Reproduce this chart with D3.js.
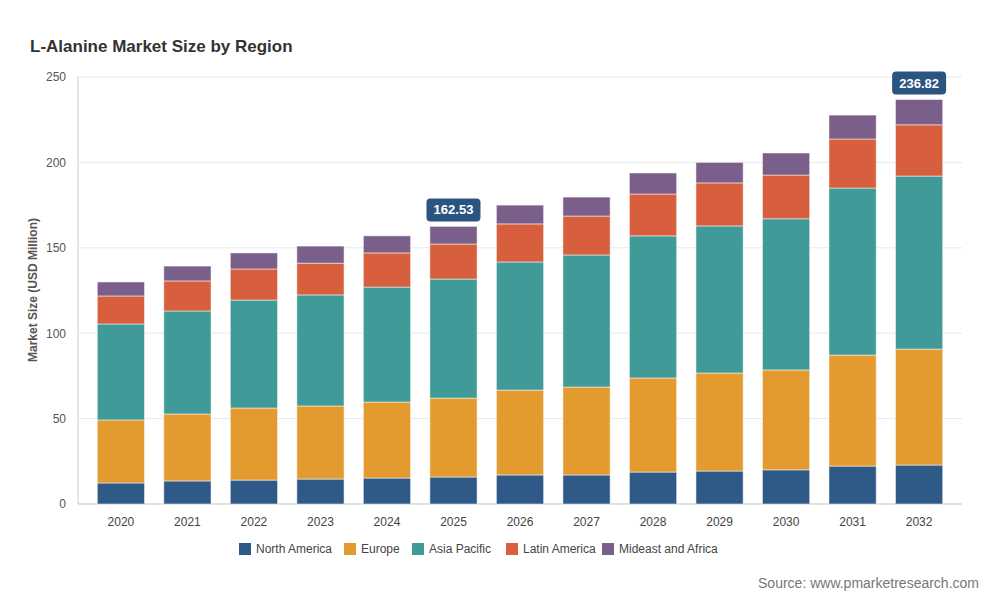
<!DOCTYPE html>
<html><head><meta charset="utf-8">
<script src="https://cdn.jsdelivr.net/npm/d3@7"></script>
<style>body{margin:0;background:#fff;font-family:"Liberation Sans",Arial,sans-serif}</style>
</head><body><svg id="c" width="1000" height="600"></svg>
<script>
var years = ["2020","2021","2022","2023","2024","2025","2026","2027","2028","2029","2030","2031","2032"];
var regions = ["North America","Europe","Asia Pacific","Latin America","Mideast and Africa"];
var colors = ["#2f5a88","#e39b2f","#409a97","#d75f3d","#7b5f8b"];
var northAmerica = [12.3,13.5,14,14.6,15.2,15.8,17,17,18.7,19.3,20,22.2,22.8];
var europe = [36.9,39.2,42.2,42.8,44.5,46.2,49.7,51.5,55.1,57.4,58.5,65,67.9];
var asiaPacific = [56.2,60.3,63.2,65,67.3,69.7,75,77.3,83.2,86.1,88.5,97.8,101.3];
var latinAmerica = [16.4,17.6,18.2,18.6,20,20.5,22.3,22.8,24.5,25.2,25.6,28.7,30];
var mideastAfrica = [8.2,8.7,9.4,10,10,10.33,11,11.1,12.3,12,12.9,14,14.82];
var yTicks = [0,50,100,150,200,250];
var callouts = ["2025","2032"];

var series = [northAmerica,europe,asiaPacific,latinAmerica,mideastAfrica];
var svg = d3.select("#c");
var m = {l:78,r:962,t:77,b:504};
var x = d3.scaleBand().domain(years).range([m.l,m.r]).padding(0.29);
var y = d3.scaleLinear().domain([0,250]).range([m.b,m.t]);

svg.append("text").attr("x",30).attr("y",52).attr("font-size",17).attr("font-weight","bold").attr("fill","#333").text("L-Alanine Market Size by Region");

svg.selectAll(".grid").data(yTicks).enter().append("line")
  .attr("x1",m.l).attr("x2",m.r).attr("y1",d=>y(d)).attr("y2",d=>y(d))
  .attr("stroke","#e6e9ee");
svg.append("line").attr("x1",m.l).attr("x2",m.l).attr("y1",m.t).attr("y2",m.b).attr("stroke","#ccc");
svg.append("line").attr("x1",m.l).attr("x2",m.r).attr("y1",m.b).attr("y2",m.b).attr("stroke","#ccc");

var ya = svg.append("g").attr("transform","translate("+m.l+",0)").call(d3.axisLeft(y).tickValues(yTicks).tickSize(0).tickPadding(12));
ya.select(".domain").remove();
ya.selectAll("text").attr("font-size",12).attr("fill","#555");
var xa = svg.append("g").attr("transform","translate(0,"+m.b+")").call(d3.axisBottom(x).tickSize(0).tickPadding(13));
xa.select(".domain").remove();
xa.selectAll("text").attr("font-size",12).attr("fill","#444");

svg.append("text").attr("transform","translate(37,290) rotate(-90)").attr("text-anchor","middle")
  .attr("font-size",12).attr("font-weight","bold").attr("fill","#555").text("Market Size (USD Million)");

var totals = years.map((yr,i)=>d3.sum(series,s=>s[i]));
years.forEach(function(yr,i){
  var base = 0;
  series.forEach(function(s,k){
    svg.append("rect").attr("x",x(yr)).attr("width",x.bandwidth())
      .attr("y",y(base+s[i])).attr("height",y(base)-y(base+s[i]))
      .attr("fill",colors[k]).attr("stroke","#fff").attr("stroke-opacity",0.5).attr("stroke-width",1);
    base += s[i];
  });
});

callouts.forEach(function(yr){
  var i = years.indexOf(yr), cx = x(yr)+x.bandwidth()/2, ty = y(totals[i]);
  var t = d3.format(".2f")(totals[i]);
  svg.append("rect").attr("x",cx-27).attr("y",ty-28).attr("width",54).attr("height",23).attr("rx",4).attr("fill","#2b5580");
  svg.append("text").attr("x",cx).attr("y",ty-12).attr("text-anchor","middle").attr("font-size",13).attr("font-weight","bold").attr("fill","#fff").text(t);
});

var lg = svg.append("g");
var lx = [239,344,412,506,602];
regions.forEach(function(r,k){
  lg.append("rect").attr("x",lx[k]).attr("y",543).attr("width",12).attr("height",12).attr("fill",colors[k]);
  lg.append("text").attr("x",lx[k]+17).attr("y",553).attr("font-size",12).attr("fill","#444").text(r);
});

svg.append("text").attr("x",979).attr("y",588).attr("text-anchor","end").attr("font-size",14).attr("fill","#777").text("Source: www.pmarketresearch.com");
</script></body></html>
